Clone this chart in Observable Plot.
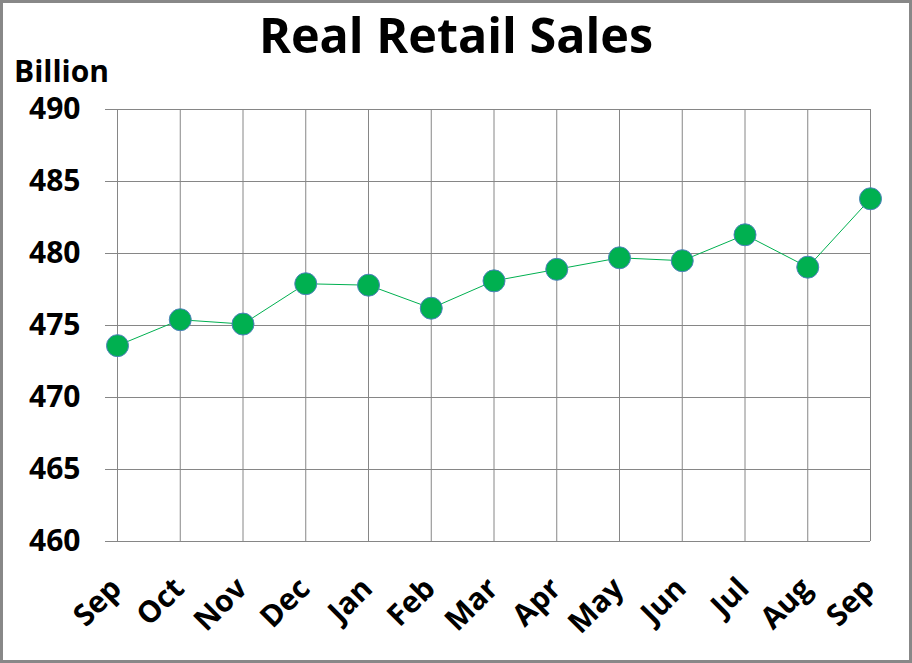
<!DOCTYPE html>
<html>
<head>
<meta charset="utf-8">
<script src="https://cdn.jsdelivr.net/npm/d3@7"></script>
<script src="https://cdn.jsdelivr.net/npm/@observablehq/plot@0.6"></script>
<style>
  html, body { margin: 0; padding: 0; background: white; }
  #wrap { position: relative; width: 912px; height: 663px; overflow: hidden; background: white; font-family: "Open Sans", sans-serif; }
  #chart { position: absolute; left: 0; top: 0; }
  #title { position: absolute; left: 0; width: 912px; top: 10px; text-align: center; font-size: 48.5px; font-weight: bold; line-height: 1; color: black; white-space: nowrap; }
  #unit { position: absolute; left: 14px; top: 56px; font-size: 30px; font-weight: bold; line-height: 1; color: black; }
  #border { position: absolute; left: 0; top: 0; width: 912px; height: 663px; box-sizing: border-box; border: 3px solid #888888; pointer-events: none; }
</style>
</head>
<body>
<div id="wrap">
  <div id="chart"></div>
  <div id="title">Real Retail Sales</div>
  <div id="unit">Billion</div>
  <div id="border"></div>
</div>
<script>
const months = ["Sep","Oct","Nov","Dec","Jan","Feb","Mar","Apr","May","Jun","Jul","Aug","Sep"];
const sales = [473.6, 475.4, 475.1, 477.9, 477.8, 476.2, 478.1, 478.9, 479.7, 479.5, 481.3, 479.05, 483.8];
const yTicks = [460, 465, 470, 475, 480, 485, 490];

const idx = d3.range(months.length);
const data = idx.map(i => ({i, month: months[i], value: sales[i]}));
const gridColor = "#868686";

const chart = Plot.plot({
  width: 912,
  height: 663,
  marginLeft: 117,
  marginRight: 42,
  marginTop: 109,
  marginBottom: 122,
  style: {fontFamily: "'Open Sans', sans-serif", background: "transparent", color: "black", overflow: "visible"},
  x: {type: "point", domain: idx, padding: 0, round: false},
  y: {domain: [460, 490]},
  marks: [
    Plot.ruleX(idx, {x: d => d, y1: 460, y2: 490, stroke: gridColor, strokeWidth: 1}),
    Plot.gridY(yTicks, {stroke: gridColor, strokeOpacity: 1, strokeWidth: 1}),
    Plot.axisY(yTicks, {tickSize: 12, tickPadding: 25, stroke: gridColor, fill: "black", fontSize: 30, fontWeight: "bold", label: null, tickFormat: d => String(d)}),
    Plot.axisX(idx, {tickSize: 0, tickPadding: 42, tickRotate: -45, tickFormat: i => months[i], fill: "black", fontSize: 30, fontWeight: "bold", label: null, dx: -1}),
    Plot.line(data, {x: "i", y: "value", stroke: "#00B050", strokeWidth: 1}),
    Plot.dot(data, {x: "i", y: "value", r: 11, fill: "#00B050", stroke: "#4F81BD", strokeWidth: 1})
  ]
});
document.getElementById("chart").appendChild(chart);
</script>
</body>
</html>
